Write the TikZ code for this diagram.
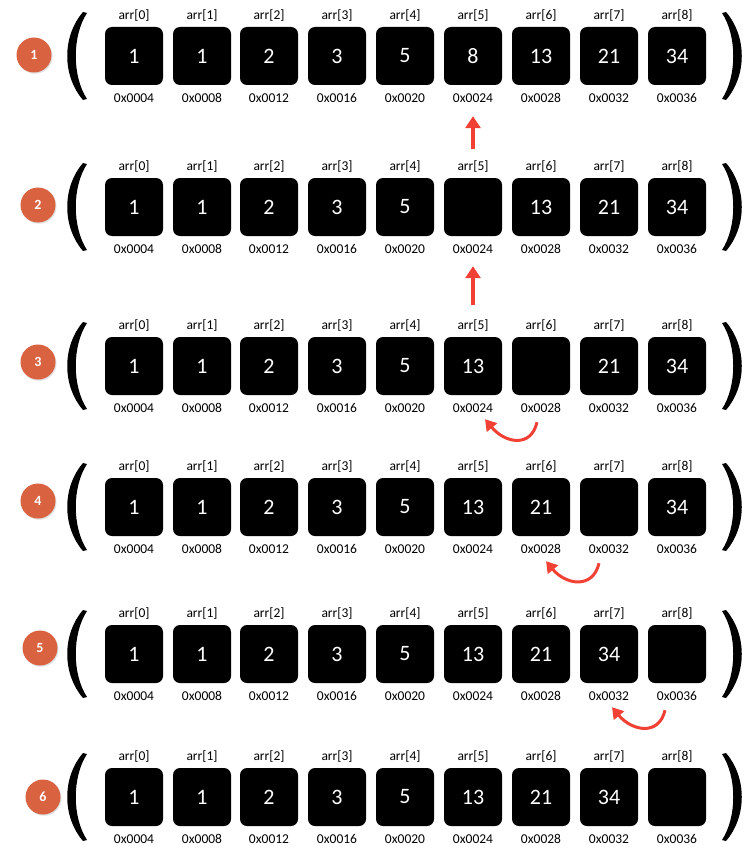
\documentclass[tikz,border=0pt]{standalone}
\usepackage{fontspec}
\setmainfont{Carlito}
\usetikzlibrary{arrows.meta,shadows}
\definecolor{badgeorange}{RGB}{217,98,65}
\definecolor{arrowred}{RGB}{240,65,52}
\tikzset{
  tag/.style={font=\fontsize{13.5}{15}\selectfont, text=black, fill=none, inner sep=1pt,
    minimum size=0pt, text height=9.5pt, text depth=2.5pt},
  cell/.style 2 args={fill=black, rounded corners=7pt, minimum size=58pt, inner sep=0pt,
    text=white, font=\fontsize{22}{26}\selectfont,
    label={[tag, label distance=4pt]above:{#1}}, label={[tag, label distance=6.5pt]below:{#2}}},
  badge/.style={circle, fill=badgeorange, minimum size=35pt, inner sep=0pt, text=white,
    font=\bfseries\fontsize{14}{16}\selectfont,
    drop shadow={opacity=0.25, shadow xshift=1pt, shadow yshift=-1.2pt}},
  pusharrow/.style={arrowred, line width=4pt, -{Triangle[length=12pt,width=15pt]}},
  swaparrow/.style={arrowred, line width=3pt, -{Triangle[length=11pt,width=13pt]}},
  lparen/.pic={\fill (-2,-44) .. controls (-23,-20) and (-23,20) .. (-2,44) -- (2,43)
    .. controls (-13,20) and (-13,-20) .. (2,-43) -- cycle;}
}
\begin{document}
\begin{tikzpicture}[x=1pt, y=-1pt]
\path[fill=white, use as bounding box] (0,0) rectangle (750,864);

% row 1
\node[badge] (b1) at (34,55) {1};
\pic at (85,56) {lparen};
\pic[xscale=-1] at (724,56) {lparen};
\node[cell={arr[0]}{0x0004}] (r1c0) at (134,56) {1};
\node[cell={arr[1]}{0x0008}] (r1c1) at (202,56) {1};
\node[cell={arr[2]}{0x0012}] (r1c2) at (269,56) {2};
\node[cell={arr[3]}{0x0016}] (r1c3) at (337,56) {3};
\node[cell={arr[4]}{0x0020}] (r1c4) at (405,56) {5};
\node[cell={arr[5]}{0x0024}] (r1c5) at (473,56) {8};
\node[cell={arr[6]}{0x0028}] (r1c6) at (541,56) {13};
\node[cell={arr[7]}{0x0032}] (r1c7) at (609,56) {21};
\node[cell={arr[8]}{0x0036}] (r1c8) at (677,56) {34};

% row 2
\node[badge] (b2) at (38,205) {2};
\pic at (85,207) {lparen};
\pic[xscale=-1] at (724,207) {lparen};
\node[cell={arr[0]}{0x0004}] (r2c0) at (134,207) {1};
\node[cell={arr[1]}{0x0008}] (r2c1) at (202,207) {1};
\node[cell={arr[2]}{0x0012}] (r2c2) at (269,207) {2};
\node[cell={arr[3]}{0x0016}] (r2c3) at (337,207) {3};
\node[cell={arr[4]}{0x0020}] (r2c4) at (405,207) {5};
\node[cell={arr[5]}{0x0024}] (r2c5) at (473,207) {};
\node[cell={arr[6]}{0x0028}] (r2c6) at (541,207) {13};
\node[cell={arr[7]}{0x0032}] (r2c7) at (609,207) {21};
\node[cell={arr[8]}{0x0036}] (r2c8) at (677,207) {34};

% row 3
\node[badge] (b3) at (38,362) {3};
\pic at (85,366) {lparen};
\pic[xscale=-1] at (724,366) {lparen};
\node[cell={arr[0]}{0x0004}] (r3c0) at (134,366) {1};
\node[cell={arr[1]}{0x0008}] (r3c1) at (202,366) {1};
\node[cell={arr[2]}{0x0012}] (r3c2) at (269,366) {2};
\node[cell={arr[3]}{0x0016}] (r3c3) at (337,366) {3};
\node[cell={arr[4]}{0x0020}] (r3c4) at (405,366) {5};
\node[cell={arr[5]}{0x0024}] (r3c5) at (473,366) {13};
\node[cell={arr[6]}{0x0028}] (r3c6) at (541,366) {};
\node[cell={arr[7]}{0x0032}] (r3c7) at (609,366) {21};
\node[cell={arr[8]}{0x0036}] (r3c8) at (677,366) {34};

% row 4
\node[badge] (b4) at (38,501) {4};
\pic at (85,507) {lparen};
\pic[xscale=-1] at (724,507) {lparen};
\node[cell={arr[0]}{0x0004}] (r4c0) at (134,507) {1};
\node[cell={arr[1]}{0x0008}] (r4c1) at (202,507) {1};
\node[cell={arr[2]}{0x0012}] (r4c2) at (269,507) {2};
\node[cell={arr[3]}{0x0016}] (r4c3) at (337,507) {3};
\node[cell={arr[4]}{0x0020}] (r4c4) at (405,507) {5};
\node[cell={arr[5]}{0x0024}] (r4c5) at (473,507) {13};
\node[cell={arr[6]}{0x0028}] (r4c6) at (541,507) {21};
\node[cell={arr[7]}{0x0032}] (r4c7) at (609,507) {};
\node[cell={arr[8]}{0x0036}] (r4c8) at (677,507) {34};

% row 5
\node[badge] (b5) at (40,648) {5};
\pic at (85,654) {lparen};
\pic[xscale=-1] at (724,654) {lparen};
\node[cell={arr[0]}{0x0004}] (r5c0) at (134,654) {1};
\node[cell={arr[1]}{0x0008}] (r5c1) at (202,654) {1};
\node[cell={arr[2]}{0x0012}] (r5c2) at (269,654) {2};
\node[cell={arr[3]}{0x0016}] (r5c3) at (337,654) {3};
\node[cell={arr[4]}{0x0020}] (r5c4) at (405,654) {5};
\node[cell={arr[5]}{0x0024}] (r5c5) at (473,654) {13};
\node[cell={arr[6]}{0x0028}] (r5c6) at (541,654) {21};
\node[cell={arr[7]}{0x0032}] (r5c7) at (609,654) {34};
\node[cell={arr[8]}{0x0036}] (r5c8) at (677,654) {};

% row 6
\node[badge] (b6) at (43,797) {6};
\pic at (85,797) {lparen};
\pic[xscale=-1] at (724,797) {lparen};
\node[cell={arr[0]}{0x0004}] (r6c0) at (134,797) {1};
\node[cell={arr[1]}{0x0008}] (r6c1) at (202,797) {1};
\node[cell={arr[2]}{0x0012}] (r6c2) at (269,797) {2};
\node[cell={arr[3]}{0x0016}] (r6c3) at (337,797) {3};
\node[cell={arr[4]}{0x0020}] (r6c4) at (405,797) {5};
\node[cell={arr[5]}{0x0024}] (r6c5) at (473,797) {13};
\node[cell={arr[6]}{0x0028}] (r6c6) at (541,797) {21};
\node[cell={arr[7]}{0x0032}] (r6c7) at (609,797) {34};
\node[cell={arr[8]}{0x0036}] (r6c8) at (677,797) {};

% moves
\draw[pusharrow] ([shift={(0,-29)}]r2c5.north) -- ([shift={(0,31)}]r1c5.south);
\draw[pusharrow] ([shift={(0,-32)}]r3c5.north) -- ([shift={(0,30)}]r2c5.south);
\draw[swaparrow] ([shift={(-4,27)}]r3c6.south) .. controls +(-6,26) and +(20,24) .. ([shift={(12,24)}]r3c5.south);
\draw[swaparrow] ([shift={(-10,27)}]r4c7.south) .. controls +(-6,26) and +(20,24) .. ([shift={(5,25)}]r4c6.south);
\draw[swaparrow] ([shift={(-12,27)}]r5c8.south) .. controls +(-6,26) and +(20,24) .. ([shift={(3,24)}]r5c7.south);
\end{tikzpicture}
\end{document}
